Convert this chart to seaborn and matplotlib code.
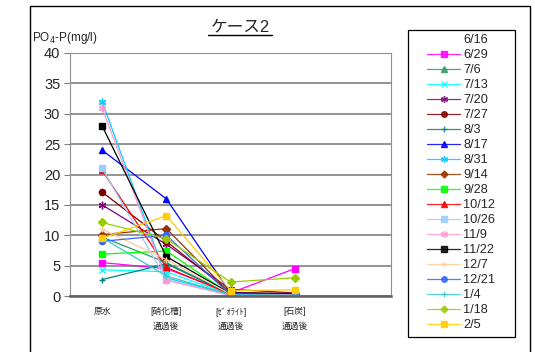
import matplotlib
matplotlib.use("Agg")
import matplotlib.pyplot as plt
from matplotlib.lines import Line2D
from matplotlib.patches import Rectangle
import numpy as np
import seaborn as sns

sns.set_style("white")
plt.rcParams["font.family"] = ["Liberation Sans", "Noto Sans CJK JP", "DejaVu Sans"]

# Sampling points along the treatment train (the fifth slot is left empty)
stages = ["原水", "[硝化槽]\n通過後", "[ｾﾞｵﾗｲﾄ]\n通過後", "[石炭]\n通過後", ""]

dates = ["6/16", "6/29", "7/6", "7/13", "7/20", "7/27", "8/3", "8/17", "8/31",
         "9/14", "9/28", "10/12", "10/26", "11/9", "11/22", "12/7", "12/21",
         "1/4", "1/18", "2/5"]

# PO4-P (mg/l) at each stage, one list per sampling date
v_0616 = []
v_0629 = [5.5, 4.5, 0.5, 4.5]
v_0706 = [9.7, 5.5, 0.3, 0.2]
v_0713 = [4.3, 4.0, 0.2, 0.1]
v_0720 = [15.0, 8.5, 1.1, 0.5]
v_0727 = [17.1, 9.0, 0.6, 0.4]
v_0803 = [2.7, 5.3, 0.3, 0.2]
v_0817 = [24.0, 16.0, 0.5, 0.3]
v_0831 = [32.0, 3.0, 0.2, 0.1]
v_0914 = [10.1, 11.1, 0.4, 0.3]
v_0928 = [6.9, 7.4, 0.3, 0.2]
v_1012 = [20.7, 4.7, 0.3, 0.2]
v_1026 = [21.0, 2.7, 0.1, 0.1]
v_1109 = [31.0, 2.6, 0.1, 0.1]
v_1122 = [28.0, 6.5, 0.4, 0.3]
v_1207 = [11.0, 6.0, 0.3, 0.2]
v_1221 = [9.0, 10.0, 0.2, 0.1]
v_0104 = [9.6, 3.3, 0.2, 0.1]
v_0118 = [12.1, 9.4, 2.3, 3.0]
v_0205 = [9.5, 13.2, 0.9, 1.0]

values = [v_0616, v_0629, v_0706, v_0713, v_0720, v_0727, v_0803, v_0817,
          v_0831, v_0914, v_0928, v_1012, v_1026, v_1109, v_1122, v_1207,
          v_1221, v_0104, v_0118, v_0205]

colors = ["#000080", "#FF00FF", "#339966", "#00FFFF", "#800080", "#800000",
          "#008080", "#0000FF", "#00CCFF", "#993300", "#00FF00", "#FF0000",
          "#99CCFF", "#FF99CC", "#000000", "#FFCC99", "#3366FF", "#33CCCC",
          "#99CC00", "#FFCC00"]
asterisk = (6, 2, 0)
markers = ["D", "s", "^", "x", asterisk, "o", "+", "^", asterisk, "D", "s",
           "^", "s", asterisk, "s", "+", "o", "+", "D", "s"]
sizes = {"D": 4.0, "s": 4.5, "^": 5.0, "o": 4.5, "x": 4.5, "+": 5.0}

fig = plt.figure(figsize=(5.35, 3.52), dpi=100)
ax = fig.add_axes([70 / 535, 1 - 296 / 352, 321 / 535, 243 / 352])

handles = []
for label, vals, col, mk in zip(dates, values, colors, markers):
    ms = sizes.get(mk, 5.0) if isinstance(mk, str) else 5.5
    if len(vals) == 0:
        handles.append(Line2D([], [], linestyle="none", marker=None))
        continue
    x = np.arange(len(vals))
    sns.lineplot(x=x, y=vals, ax=ax, color=col, marker=mk, markersize=ms,
                 markeredgecolor=col, markerfacecolor=col, markeredgewidth=1,
                 linewidth=0.9, legend=False)
    handles.append(Line2D([], [], color=col, marker=mk, markersize=ms - 0.5,
                          markeredgecolor=col, markerfacecolor=col,
                          markeredgewidth=1, linewidth=0.9, alpha=0.85))

ax.set_xlim(-0.5, len(stages) - 0.5)
ax.set_ylim(0, 40)
ax.set_yticks(np.arange(0, 41, 5))
ax.set_xticks(np.arange(len(stages)))
ax.set_xticklabels(stages, fontsize=6.3, linespacing=1.8)
ax.tick_params(axis="x", length=0, pad=8)
ax.tick_params(axis="y", direction="out", length=4, color="#808080",
               labelsize=10.5, pad=3, left=True)
ax.set_xlabel("")
ax.set_ylabel("")
ax.yaxis.grid(True, color="#808080", linewidth=1.2)
ax.xaxis.grid(False)
ax.set_axisbelow(True)
for side in ("top", "right", "left"):
    ax.spines[side].set_color("#909090")
    ax.spines[side].set_linewidth(0.8)
ax.spines["bottom"].set_color("#606060")
ax.spines["bottom"].set_linewidth(1.8)

# Title with underline
fig.text(240 / 535, 1 - 26.5 / 352, "ケース2", ha="center", va="center",
         fontsize=12)
fig.add_artist(Line2D([208 / 535, 272 / 535], [1 - 35 / 352, 1 - 35 / 352],
                      color="black", linewidth=1, transform=fig.transFigure))

# Axis unit label
fig.text(32 / 535, 1 - 38 / 352, "PO$_{4}$-P(mg/l)", ha="left", va="center",
         fontsize=8.5)

# Legend entries without their own frame; the box is drawn separately
leg = fig.legend(handles, dates, loc="upper left",
                 bbox_to_anchor=(427 / 535, 1 - 34 / 352), fontsize=9.2,
                 handlelength=2.6, handletextpad=0.25, labelspacing=0.235,
                 borderpad=0, frameon=False, borderaxespad=0)
fig.add_artist(Rectangle((408 / 535, 1 - 337 / 352), 107 / 535, 307 / 352,
                         fill=False, edgecolor="black", linewidth=0.9,
                         transform=fig.transFigure))

# Outer chart frame
fig.add_artist(Rectangle((30 / 535, -0.05), 500 / 535, 1.05 - 6 / 352,
                         fill=False, edgecolor="black", linewidth=1,
                         transform=fig.transFigure))

fig.savefig("out.png", dpi=100)
